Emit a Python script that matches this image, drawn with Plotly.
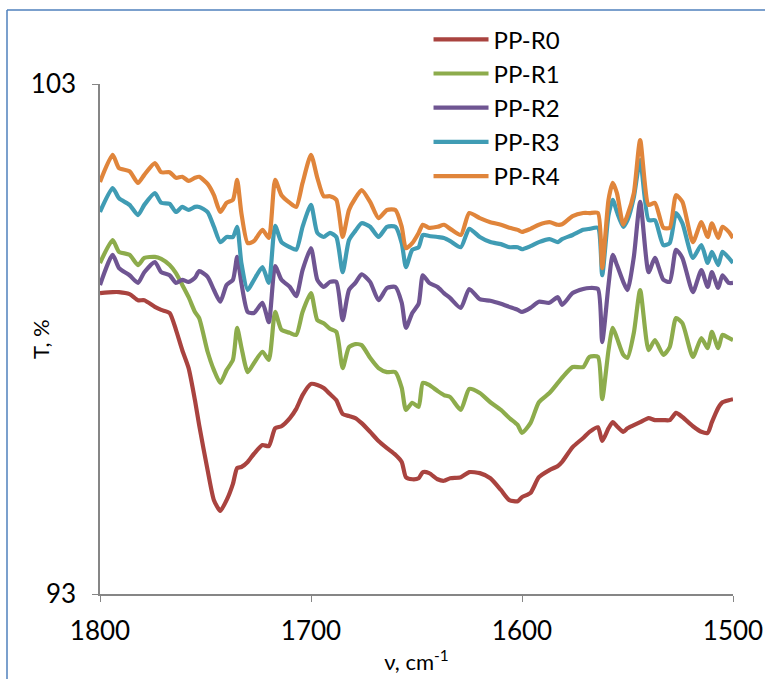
import plotly.graph_objects as go

wavenumber = [1800, 1794, 1791, 1786, 1782, 1779, 1774, 1771, 1767, 1764,
              1761, 1758, 1755, 1753, 1749, 1746, 1743, 1740, 1737, 1735,
              1733, 1730, 1727, 1723, 1720, 1717, 1714, 1710, 1707, 1704,
              1700, 1697, 1694, 1691, 1688, 1685, 1682, 1679, 1676, 1672,
              1668, 1664, 1660, 1657, 1655, 1652, 1649, 1647, 1644, 1640,
              1637, 1634, 1629, 1625, 1620, 1615, 1610, 1606, 1602, 1600,
              1596, 1592, 1587, 1583, 1581, 1576, 1571, 1568, 1564, 1562,
              1559, 1557, 1555, 1552, 1550, 1547, 1544, 1540, 1537, 1533,
              1530, 1527, 1524, 1519, 1515, 1512, 1510, 1507, 1505, 1502, 1500]

pp_r0 = [98.90, 98.92, 98.92, 98.88, 98.76, 98.76, 98.63, 98.57, 98.51, 98.18,
         97.78, 97.43, 96.80, 96.31, 95.43, 94.84, 94.63, 94.84, 95.16, 95.47,
         95.49, 95.59, 95.75, 95.92, 95.90, 96.25, 96.29, 96.45, 96.63, 96.90,
         97.12, 97.10, 97.04, 96.92, 96.80, 96.53, 96.49, 96.45, 96.35, 96.18,
         96.00, 95.86, 95.73, 95.59, 95.29, 95.25, 95.27, 95.39, 95.37, 95.25,
         95.22, 95.27, 95.29, 95.39, 95.37, 95.27, 95.04, 94.84, 94.82, 94.90,
         94.98, 95.29, 95.43, 95.51, 95.59, 95.88, 96.06, 96.18, 96.27, 96.00,
         96.25, 96.37, 96.29, 96.18, 96.25, 96.31, 96.37, 96.45, 96.41, 96.41,
         96.41, 96.55, 96.47, 96.29, 96.18, 96.16, 96.37, 96.65, 96.76, 96.80, 96.82]

pp_r1 = [99.49, 99.94, 99.71, 99.65, 99.45, 99.59, 99.61, 99.57, 99.45, 99.29,
         99.06, 98.82, 98.53, 98.41, 97.75, 97.39, 97.14, 97.39, 97.59, 98.22,
         97.84, 97.35, 97.53, 97.75, 97.59, 98.53, 98.18, 98.12, 98.08, 98.53,
         98.90, 98.37, 98.31, 98.20, 98.14, 97.43, 97.84, 97.90, 97.88, 97.63,
         97.43, 97.35, 97.35, 97.04, 96.61, 96.75, 96.67, 97.14, 97.10, 96.98,
         96.90, 96.86, 96.61, 97.02, 96.94, 96.76, 96.61, 96.45, 96.31, 96.16,
         96.35, 96.76, 96.94, 97.14, 97.24, 97.45, 97.45, 97.65, 97.65, 96.82,
         97.78, 98.22, 98.02, 97.69, 97.63, 98.12, 98.96, 97.78, 97.98, 97.69,
         97.84, 98.41, 98.31, 97.65, 98.02, 97.82, 98.14, 97.82, 98.08, 98.02, 97.98]

pp_r2 = [99.06, 99.65, 99.39, 99.25, 99.10, 99.31, 99.51, 99.31, 99.25, 99.10,
         99.16, 99.12, 99.20, 99.33, 99.22, 98.96, 98.73, 99.06, 99.16, 99.61,
         99.10, 98.53, 98.51, 98.71, 98.33, 99.43, 99.16, 99.02, 98.84, 99.35,
         99.78, 99.16, 99.02, 99.12, 99.12, 98.37, 98.96, 99.10, 99.27, 99.12,
         98.76, 99.00, 99.02, 98.71, 98.22, 98.51, 98.69, 99.25, 99.10, 99.02,
         98.90, 98.80, 98.61, 98.98, 98.78, 98.75, 98.69, 98.63, 98.57, 98.53,
         98.61, 98.73, 98.71, 98.82, 98.67, 98.90, 98.98, 99.00, 98.98, 97.94,
         99.06, 99.65, 99.45, 99.12, 98.96, 99.61, 100.69, 99.31, 99.59, 99.16,
         99.12, 99.75, 99.59, 98.92, 99.35, 99.02, 99.31, 99.00, 99.25, 99.10, 99.10]

pp_r3 = [100.49, 100.96, 100.76, 100.63, 100.43, 100.63, 100.86, 100.67, 100.65, 100.49,
         100.59, 100.53, 100.59, 100.59, 100.49, 100.20, 99.90, 100.00, 100.00, 100.20,
         99.49, 98.96, 99.16, 99.41, 99.10, 100.22, 99.90, 99.80, 99.75, 100.20,
         100.63, 100.08, 100.00, 100.08, 100.00, 99.31, 99.94, 100.12, 100.27, 100.20,
         100.00, 100.20, 100.20, 99.88, 99.41, 99.75, 99.80, 100.04, 100.02, 100.00,
         99.98, 99.92, 99.80, 100.16, 100.00, 99.90, 99.86, 99.80, 99.80, 99.76,
         99.82, 99.90, 99.96, 99.90, 99.96, 100.04, 100.14, 100.16, 100.18, 99.25,
         100.43, 100.73, 100.49, 100.20, 100.33, 100.78, 101.51, 100.33, 100.33, 99.84,
         99.88, 100.47, 100.27, 99.59, 99.84, 99.49, 99.71, 99.45, 99.71, 99.59, 99.49]

pp_r4 = [101.08, 101.61, 101.35, 101.29, 101.06, 101.22, 101.45, 101.27, 101.27, 101.16,
         101.18, 101.10, 101.16, 101.18, 101.04, 100.82, 100.49, 100.67, 100.73, 101.12,
         100.47, 99.88, 99.92, 100.14, 99.98, 101.12, 100.82, 100.67, 100.59, 101.06,
         101.61, 101.16, 100.80, 100.80, 100.73, 100.00, 100.53, 100.76, 100.92, 100.69,
         100.37, 100.53, 100.53, 100.20, 99.78, 99.88, 100.08, 100.24, 100.18, 100.20,
         100.24, 100.16, 100.04, 100.47, 100.37, 100.29, 100.24, 100.18, 100.14, 100.10,
         100.16, 100.24, 100.29, 100.24, 100.25, 100.41, 100.47, 100.47, 100.47, 99.39,
         100.73, 101.06, 100.86, 100.24, 100.43, 100.86, 101.90, 100.63, 100.67, 100.18,
         100.18, 100.82, 100.69, 99.90, 100.29, 100.00, 100.27, 99.98, 100.20, 100.10, 99.98]

series_names = ["PP-R0", "PP-R1", "PP-R2", "PP-R3", "PP-R4"]
series_values = [pp_r0, pp_r1, pp_r2, pp_r3, pp_r4]
series_colors = ["#A9433F", "#8DAC4C", "#6F5592", "#409CB4", "#E0853B"]

x_ticks = [1800, 1700, 1600, 1500]
y_ticks = [93, 103]

FONT = "Lato, 'Open Sans', sans-serif"

fig = go.Figure()
for name, vals, col in zip(series_names, series_values, series_colors):
    fig.add_trace(go.Scatter(
        x=wavenumber, y=vals, name=name, mode="lines",
        line=dict(color=col, width=4.2, shape="spline", smoothing=0.6),
    ))

FRAME_LEFT = (7 - 100) / 633
FRAME_TOP = (594 - 10) / 510
frame_line = dict(color="#4F81BD", width=1.5)

fig.update_layout(
    width=765, height=679, autosize=False,
    margin=dict(l=100, r=32, t=84, b=85, autoexpand=False),
    paper_bgcolor="white", plot_bgcolor="white",
    font=dict(family=FONT, color="black", size=22),
    showlegend=True,
    legend=dict(
        x=0.519, y=1.131, xanchor="left", yanchor="top",
        bgcolor="rgba(0,0,0,0)", font=dict(family=FONT, size=24, color="black"),
        itemwidth=55, tracegroupgap=0,
    ),
    xaxis=dict(
        range=[1800, 1500], tickvals=x_ticks, ticks="outside", ticklen=6,
        tickcolor="#868686", tickwidth=1, showline=True, linecolor="#868686",
        linewidth=1.5, showgrid=False, zeroline=False, ticklabelstandoff=7,
        automargin=False,
        tickfont=dict(family=FONT, size=26, color="black"),
        title=dict(text="ν, cm<sup>-1</sup>", font=dict(family=FONT, size=22), standoff=10),
    ),
    yaxis=dict(
        range=[93, 103], tickvals=y_ticks, ticks="outside", ticklen=6,
        tickcolor="#868686", tickwidth=1, showline=True, linecolor="#868686",
        linewidth=1.5, showgrid=False, zeroline=False, ticklabelstandoff=11,
        automargin=False,
        tickfont=dict(family=FONT, size=26, color="black"),
    ),
    annotations=[dict(
        text="T, %", textangle=-90, xref="paper", yref="paper",
        x=(40 - 100) / 633, y=0.5, xanchor="center", yanchor="middle",
        showarrow=False, font=dict(family=FONT, size=22, color="black"),
    )],
    shapes=[
        dict(type="line", xref="paper", yref="paper",
             x0=FRAME_LEFT, x1=1.2, y0=FRAME_TOP, y1=FRAME_TOP, line=frame_line, layer="below"),
        dict(type="line", xref="paper", yref="paper",
             x0=FRAME_LEFT, x1=FRAME_LEFT, y0=-0.4, y1=FRAME_TOP, line=frame_line, layer="below"),
    ],
)

fig.write_html(
    "out.html",
    config={"responsive": False, "displayModeBar": False},
    post_script="document.body.style.margin='0';document.body.style.overflow='hidden';"
                "document.documentElement.style.overflow='hidden';",
)
